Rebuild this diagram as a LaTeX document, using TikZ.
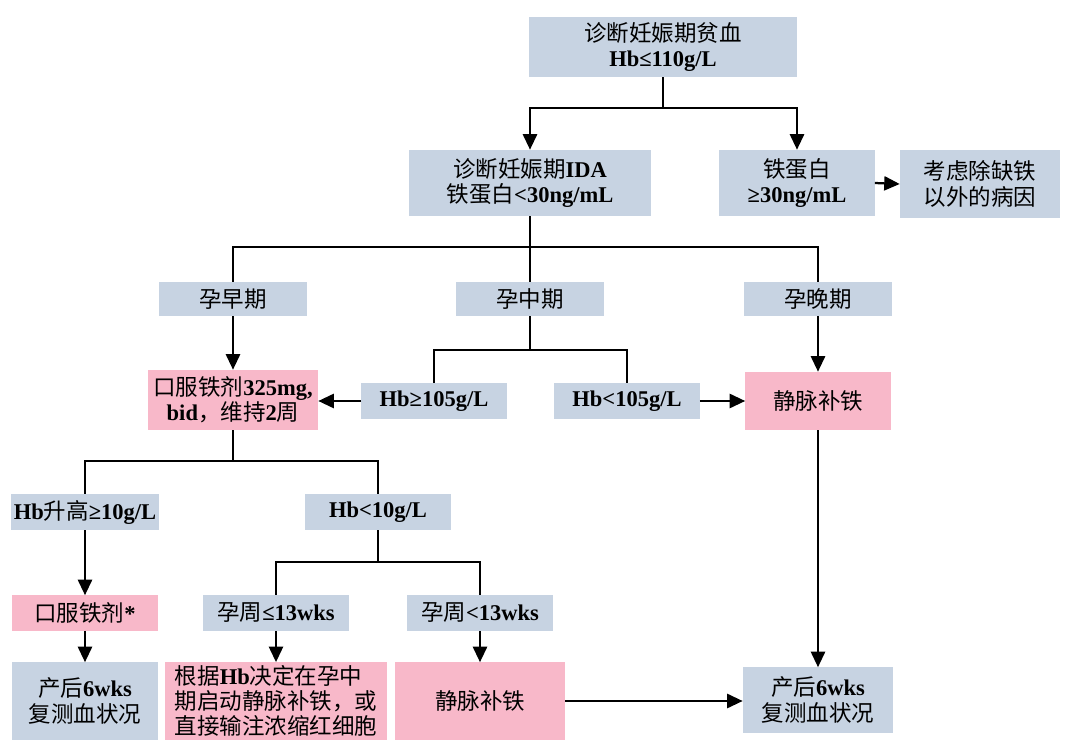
\documentclass[tikz,border=0pt]{standalone}
\usepackage{fontspec}
\setmainfont{Liberation Serif}
\newfontfamily\cjk{Noto Sans CJK SC}
\usetikzlibrary{arrows.meta, positioning, calc}
\definecolor{flowblue}{RGB}{199, 211, 226}
\definecolor{flowpink}{RGB}{248, 184, 201}
\newcommand{\zh}[1]{{\cjk\mdseries #1}}

\begin{document}
\begin{tikzpicture}[
    x=0.025cm, y=-0.025cm,
    arrow/.style={-{Triangle[length=11pt, width=10pt]}, line width=1.6pt},
    line/.style={line width=1.6pt},
    box/.style={rectangle, inner sep=2pt, align=center,
        font=\bfseries\fontsize{16}{18}\selectfont},
    bluebox/.style={box, fill=flowblue},
    pinkbox/.style={box, fill=flowpink}
]
\useasboundingbox (0,0) rectangle (1073,748);

% === Diagnosis ===
\node[bluebox, minimum width=6.675cm, minimum height=1.5cm] (diag) at (663,47)
    {\zh{诊断妊娠期贫血}\\Hb≤110g/L};
\node[bluebox, minimum width=6.05cm, minimum height=1.65cm] (ida) at (530,183)
    {\zh{诊断妊娠期}IDA\\\zh{铁蛋白}<30ng/mL};
\node[bluebox, minimum width=3.875cm, minimum height=1.65cm] (ferr) at (797,183)
    {\zh{铁蛋白}\\≥30ng/mL};
\node[bluebox, minimum width=4cm, minimum height=1.7cm] (other) at (980,184)
    {\zh{考虑除缺铁}\\\zh{以外的病因}};

\draw[arrow] (diag.south) -- ++(0,31) -| (ida.north);
\draw[arrow] (diag.south) -- ++(0,31) -| (ferr.north);
\draw[arrow] (ferr.east) -- (other.west);

% === Trimesters ===
\node[bluebox, minimum width=3.675cm, minimum height=0.85cm] (early) at (233,299) {\zh{孕早期}};
\node[bluebox, minimum width=3.675cm, minimum height=0.85cm] (mid) at (530,299) {\zh{孕中期}};
\node[bluebox, minimum width=3.675cm, minimum height=0.85cm] (late) at (818,299) {\zh{孕晚期}};

\draw[line] (ida.south) -- ++(0,31) -| (early.north);
\draw[line] (ida.south) -- (mid.north);
\draw[line] (ida.south) -- ++(0,31) -| (late.north);

% === Second trimester split ===
\node[pinkbox, minimum width=4.25cm, minimum height=1.5cm] (oral) at (233,400)
    {\zh{口服铁剂}325mg,\\bid\zh{，维持}2\zh{周}};
\node[bluebox, minimum width=3.625cm, minimum height=0.875cm] (hbhi) at (434,401) {Hb≥105g/L};
\node[bluebox, minimum width=3.625cm, minimum height=0.875cm] (hblo) at (627,401) {Hb<105g/L};
\node[pinkbox, minimum width=3.625cm, minimum height=1.45cm] (iv) at (818,401) {\zh{静脉补铁}};

\draw[line] (mid.south) -- ++(0,34) -| (hbhi.north);
\draw[line] (mid.south) -- ++(0,34) -| (hblo.north);
\draw[arrow] (early.south) -- (oral.north);
\draw[arrow] (hbhi.west) -- (oral.east |- hbhi.west);
\draw[arrow] (hblo.east) -- (iv.west);
\draw[arrow] (late.south) -- (iv.north);

% === Response to oral iron ===
\node[bluebox, minimum width=3.65cm, minimum height=0.9cm] (rise) at (85,512) {Hb\zh{升高}≥10g/L};
\node[bluebox, minimum width=3.65cm, minimum height=0.9cm] (fall) at (378,512) {Hb<10g/L};

\draw[line] (oral.south) -- ++(0,31) -| (rise.north);
\draw[line] (oral.south) -- ++(0,31) -| (fall.north);

\node[pinkbox, minimum width=3.65cm, minimum height=0.875cm] (oralb) at (85,613) {\zh{口服铁剂}*};
\node[bluebox, minimum width=3.65cm, minimum height=0.9cm] (wkle) at (276,613) {\zh{孕周}≤13wks};
\node[bluebox, minimum width=3.65cm, minimum height=0.9cm] (wklt) at (480,613) {\zh{孕周}<13wks};

\draw[arrow] (rise.south) -- (oralb.north);
\draw[line] (fall.south) -- ++(0,32) -| (wkle.north);
\draw[line] (fall.south) -- ++(0,32) -| (wklt.north);

% === Outcomes ===
\node[bluebox, minimum width=3.65cm, minimum height=1.925cm] (postl) at (85,701)
    {\zh{产后}6wks\\\zh{复测血状况}};
\node[pinkbox, minimum width=5.525cm, minimum height=1.925cm, align=left] (decide) at (276,701)
    {\zh{根据}Hb\zh{决定在孕中}\\\zh{期启动静脉补铁，或}\\\zh{直接输注浓缩红细胞}};
\node[pinkbox, minimum width=4.25cm, minimum height=1.925cm] (ivb) at (480,701) {\zh{静脉补铁}};
\node[bluebox, minimum width=3.75cm, minimum height=1.625cm] (postr) at (818,700)
    {\zh{产后}6wks\\\zh{复测血状况}};

\draw[arrow] (oralb.south) -- (postl.north);
\draw[arrow] (wkle.south) -- (decide.north);
\draw[arrow] (wklt.south) -- (ivb.north);
\draw[arrow] (iv.south) -- (postr.north);
\draw[arrow] (ivb.east) -- (postr.west |- ivb.east);

\end{tikzpicture}
\end{document}
